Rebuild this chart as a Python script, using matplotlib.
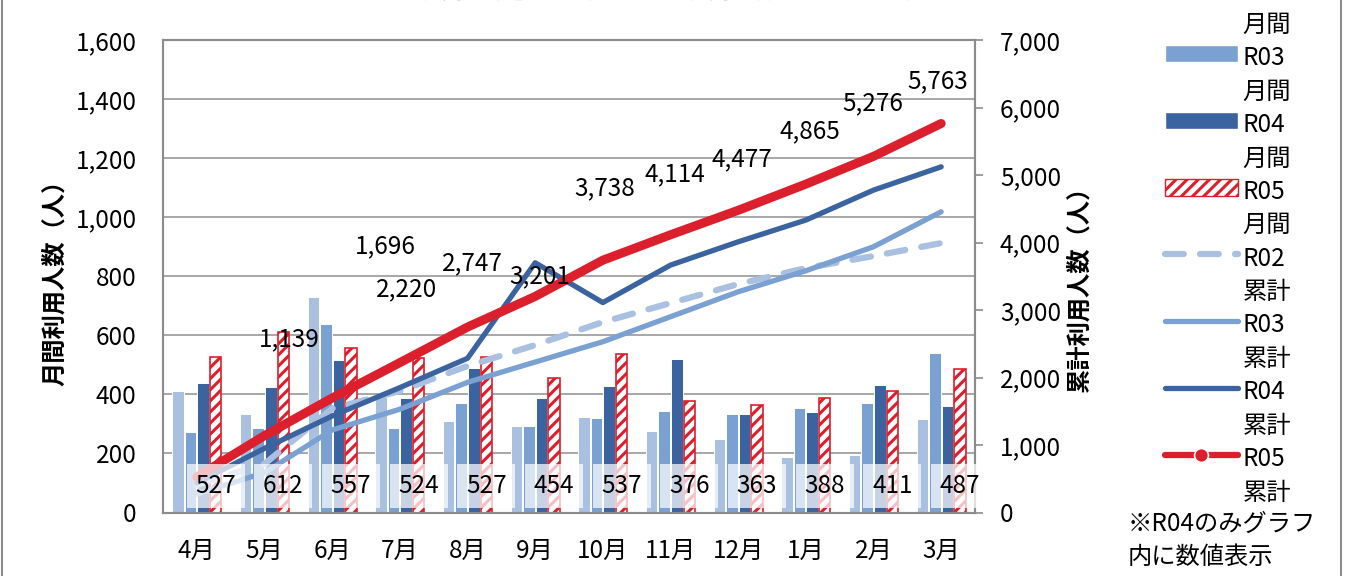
import matplotlib
matplotlib.use("Agg")
import matplotlib.pyplot as plt
from matplotlib.lines import Line2D
from matplotlib.patches import Patch
from matplotlib.ticker import FuncFormatter
import numpy as np

plt.rcParams['font.family'] = ['Noto Sans CJK JP', 'DejaVu Sans']
plt.rcParams['hatch.linewidth'] = 2.2

# ---------------- data ----------------
months = ["4月", "5月", "6月", "7月", "8月", "9月", "10月", "11月", "12月", "1月", "2月", "3月"]

r02_monthly = [411, 334, 731, 392, 310, 293, 324, 277, 250, 187, 194, 316]
r03_monthly = [274, 285, 638, 285, 370, 293, 321, 345, 334, 355, 372, 541]
r04_monthly = [437, 424, 516, 389, 488, 389, 428, 520, 334, 340, 431, 361]
r05_monthly = [527, 612, 557, 524, 527, 454, 537, 376, 363, 388, 411, 487]

r02_cumulative = [411, 720, 1540, 1800, 2170, 2480, 2821, 3103, 3384, 3621, 3799, 3991]
r03_cumulative = [274, 590, 1222, 1530, 1928, 2229, 2530, 2900, 3270, 3581, 3937, 4455]
r04_cumulative = [437, 950, 1429, 1850, 2284, 3700, 3110, 3665, 4010, 4332, 4776, 5121]
r05_cumulative = [527, 1139, 1696, 2220, 2747, 3201, 3738, 4114, 4477, 4865, 5276, 5763]

title_text = "【利用状況】　月間・累計利用者数の年度比較グラフ"
left_label = "月間利用人数（人）"
right_label = "累計利用人数（人）"
note_text = "※R04のみグラフ\n内に数値表示"

# label placement for cumulative values (category position, right-axis value)
cum_label_xy = [(1.36, 2560), (2.79, 3950), (3.10, 3300), (4.07, 3690), (5.07, 3500),
                (6.03, 4810), (7.07, 5010), (8.06, 5230), (9.06, 5650), (9.99, 6070), (10.95, 6390)]

# ---------------- styles ----------------
c_light = "#A9C0E1"
c_med = "#7BA0D2"
c_dark = "#3A639F"
c_red = "#DC1F2C"
grid_c = "#A0A0A0"
FS = 17.5

fig = plt.figure(figsize=(13.46, 5.76), dpi=100)
ax = fig.add_axes([163 / 1346, 1 - 512.5 / 576, 812 / 1346, 472.5 / 576])
ax2 = ax.twinx()

x = np.arange(len(months))
step = 0.185
bw = 0.17

ax.bar(x - 1.5 * step, r02_monthly, bw, color=c_light, edgecolor="white", linewidth=0.7, zorder=2)
ax.bar(x - 0.5 * step, r03_monthly, bw, color=c_med, edgecolor="white", linewidth=0.7, zorder=2)
ax.bar(x + 0.5 * step, r04_monthly, bw, color=c_dark, edgecolor="white", linewidth=0.7, zorder=2)
ax.bar(x + 1.5 * step, r05_monthly, bw, color="white", edgecolor=c_red, hatch="///", linewidth=1.2, zorder=2)

ax.set_xlim(-0.5, len(months) - 0.5)
ax.set_ylim(0, 1600)
ax.set_yticks(np.arange(0, 1601, 200))
ax.yaxis.set_major_formatter(FuncFormatter(lambda v, p: f"{int(v):,}"))
ax.grid(axis="y", color=grid_c, linewidth=1.3, zorder=0)
ax.set_axisbelow(True)
ax.set_xticks(x)
ax.set_xticklabels(months)
ax.tick_params(axis="x", length=0, labelsize=FS, pad=18)
ax.tick_params(axis="y", length=0, labelsize=FS, pad=19)

ax2.set_ylim(0, 7000)
ax2.set_yticks(np.arange(0, 7001, 1000))
ax2.yaxis.set_major_formatter(FuncFormatter(lambda v, p: f"{int(v):,}"))
ax2.tick_params(axis="y", length=6, width=1.2, color="#8C8C8C", labelsize=FS, pad=12)

for a in (ax, ax2):
    for s in a.spines.values():
        s.set_color("#8C8C8C")
        s.set_linewidth(1.5)

dash_pat = (3.0, 2.6)
ax2.plot(x, r02_cumulative, color=c_light, linewidth=4.5, dashes=dash_pat, dash_capstyle="round",
         solid_capstyle="round", zorder=3)
ax2.plot(x, r03_cumulative, color=c_med, linewidth=3.8, solid_capstyle="round", zorder=3)
ax2.plot(x, r04_cumulative, color=c_dark, linewidth=3.8, solid_capstyle="round", zorder=3)
ax2.plot(x, r05_cumulative, color=c_red, linewidth=6.5, solid_capstyle="round", zorder=4)

# monthly value labels (semi-transparent boxes near the base)
for i, v in enumerate(r05_monthly):
    ax2.text(i + 1.5 * step, 90, f"{v:,}", transform=ax.transData, ha="center", va="center",
             fontsize=FS, color="black", zorder=6,
             bbox=dict(boxstyle="square,pad=0.36", facecolor="white", edgecolor="none", alpha=0.72))

# cumulative value labels
for (lx, ly), v in zip(cum_label_xy, r05_cumulative[1:]):
    ax2.text(lx, ly, f"{v:,}", ha="center", va="center", fontsize=FS, color="black", zorder=7)

ax.set_ylabel(left_label, fontsize=FS, fontweight="bold")
ax.yaxis.set_label_coords(-0.1182, 0.498)
ax2.set_ylabel(right_label, fontsize=FS, fontweight="bold", rotation=90)
ax2.yaxis.set_label_coords(1.1133, 0.486)

# legend
handles = [
    Patch(facecolor=c_light, edgecolor="white"),
    Patch(facecolor=c_med, edgecolor="white"),
    Patch(facecolor=c_dark, edgecolor="white"),
    Patch(facecolor="white", edgecolor=c_red, hatch="///"),
    Line2D([], [], color=c_light, linewidth=4.5, dashes=dash_pat, dash_capstyle="round"),
    Line2D([], [], color=c_med, linewidth=3.8, solid_capstyle="round"),
    Line2D([], [], color=c_dark, linewidth=3.8, solid_capstyle="round"),
    Line2D([], [], color=c_red, linewidth=4.5, marker="o", markersize=10, markeredgecolor="white",
           markeredgewidth=1.2, solid_capstyle="round"),
]
labels = ["R02\n月間", "R03\n月間", "R04\n月間", "R05\n月間", "R02\n累計", "R03\n累計", "R04\n累計", "R05\n累計"]
leg = fig.legend(handles, labels, loc="upper left", bbox_to_anchor=(1165 / 1346, 1 + 22 / 576),
                 frameon=False, fontsize=FS, handlelength=3.0, handleheight=0.7, handletextpad=0.2,
                 labelspacing=0.3, borderpad=0, borderaxespad=0)
for t in leg.get_texts():
    t.set_linespacing(1.38)
for col in leg._legend_handle_box.get_children():
    for item in col.get_children():
        item.align = "top"

fig.text(1128 / 1346, 1 - 540 / 576, note_text, fontsize=FS, ha="left", va="center", linespacing=1.35)

fig.text(684 / 1346, 1 + 2 / 576, title_text, fontsize=FS, fontweight="bold", ha="center", va="baseline")

for xp in (1.5 / 1346, 1341 / 1346):
    fig.add_artist(Line2D([xp, xp], [0, 1], transform=fig.transFigure, color="#8C8C8C", linewidth=1.5))

fig.savefig("out.png", dpi=100)
